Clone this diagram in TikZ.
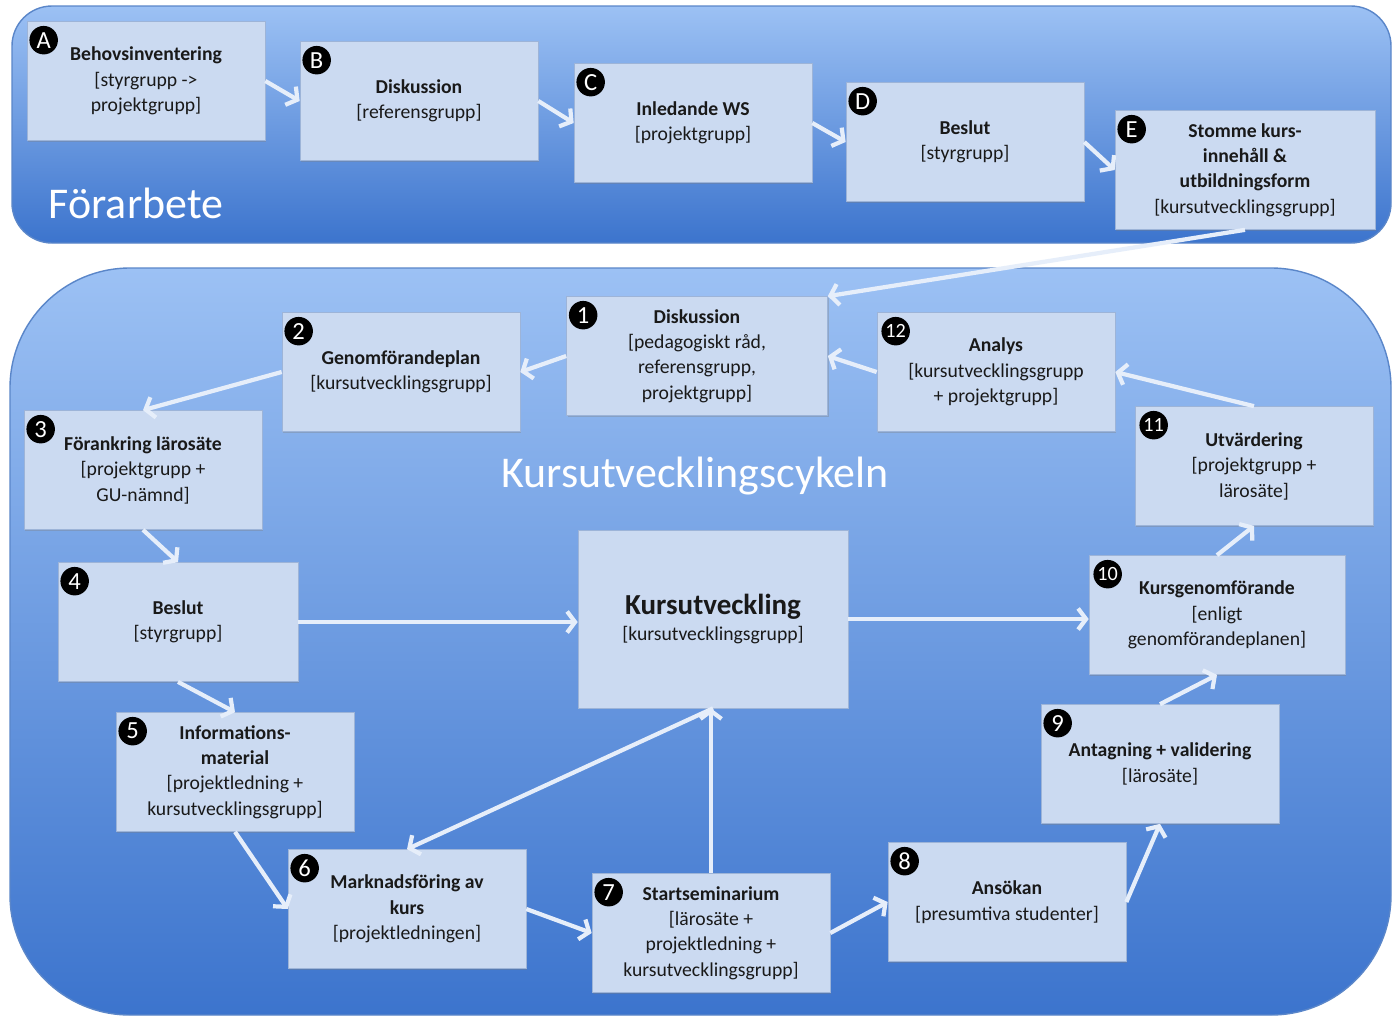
\documentclass[tikz,border=0pt]{standalone}
\usepackage{fontspec}
\setmainfont{Carlito}
\usetikzlibrary{calc, arrows.meta, shadows}

\definecolor{boxfill}{HTML}{CBDAF1}
\definecolor{boxline}{HTML}{9DB4D8}
\definecolor{paneltop}{HTML}{9CC1F4}
\definecolor{panelbot}{HTML}{3C74CD}
\definecolor{paneledge}{HTML}{5A86C9}
\definecolor{flowwhite}{HTML}{E6EEFA}

\tikzset{
	stepbox/.style={draw=boxline, fill=boxfill, align=center, text=black!90,
		minimum width=4.76cm, minimum height=2.38cm, inner sep=2pt,
		font=\fontsize{11.2}{14.5}\selectfont,
		drop shadow={opacity=0.35, shadow xshift=0.8pt, shadow yshift=-0.8pt}},
	badge/.style={circle, fill=black, text=white, inner sep=0pt,
		minimum size=0.57cm, font=\fontsize{14}{14}\selectfont},
	flow/.style={draw=flowwhite, line width=2.4pt,
		-{Straight Barb[length=4.5pt, width=12pt]}},
	panel/.style={rounded corners=2.4cm, top color=paneltop, bottom color=panelbot,
		draw=paneledge, line width=0.8pt},
	paneltitle/.style={text=white, font=\fontsize{25}{25}\selectfont}
}

\begin{document}
\begin{tikzpicture}[x=0.02cm, y=-0.02cm]
		\fill[white] (0,0) rectangle (1393,1022);
		\useasboundingbox (0,0) rectangle (1393,1022);

		% panels
		\draw[panel, rounded corners=0.8cm] (12,6) rectangle (1391,243);
		\draw[panel] (10,268) rectangle (1391,1015);
		\node[paneltitle] (t-pre) at (136,203) {Förarbete};
		\node[paneltitle] (t-cyc) at (695,476) {Kursutvecklingscykeln};

		% preliminary steps
		\node[stepbox] (A) at (146,81) {\textbf{Behovsinventering}\\{[}styrgrupp ->\\projektgrupp{]}};
		\node[stepbox] (B) at (419,101) {\textbf{Diskussion}\\{[}referensgrupp{]}};
		\node[stepbox] (C) at (693,123) {\textbf{Inledande WS}\\{[}projektgrupp{]}};
		\node[stepbox] (D) at (965,142) {\textbf{Beslut}\\{[}styrgrupp{]}};
		\node[stepbox, minimum width=5.2cm] (E) at (1245,170) {\textbf{Stomme kurs-}\\\textbf{innehåll \&}\\\textbf{utbildningsform}\\{[}kursutvecklingsgrupp{]}};

		% the cycle
		\node[stepbox, minimum width=5.22cm] (s1) at (697,356) {\textbf{Diskussion}\\{[}pedagogiskt råd,\\referensgrupp,\\projektgrupp{]}};
		\node[stepbox] (s2) at (401,372) {\textbf{Genomförandeplan}\\{[}kursutvecklingsgrupp{]}};
		\node[stepbox] (s3) at (143,470) {\textbf{Förankring lärosäte}\\{[}projektgrupp +\\GU-nämnd{]}};
		\node[stepbox, minimum width=4.8cm] (s4) at (178,622) {\textbf{Beslut}\\{[}styrgrupp{]}};
		\node[stepbox] (s5) at (235,772) {\textbf{Informations-}\\\textbf{material}\\{[}projektledning +\\kursutvecklingsgrupp{]}};
		\node[stepbox] (s6) at (407,909) {\textbf{Marknadsföring av}\\\textbf{kurs}\\{[}projektledningen{]}};
		\node[stepbox] (s7) at (711,933) {\textbf{Startseminarium}\\{[}lärosäte +\\projektledning +\\kursutvecklingsgrupp{]}};
		\node[stepbox] (s8) at (1007,902) {\textbf{Ansökan}\\{[}presumtiva studenter{]}};
		\node[stepbox] (s9) at (1160,764) {\textbf{Antagning + validering}\\{[}lärosäte{]}};
		\node[stepbox, minimum width=5.12cm] (s10) at (1217,615) {\textbf{Kursgenomförande}\\{[}enligt\\genomförandeplanen{]}};
		\node[stepbox] (s11) at (1254,466) {\textbf{Utvärdering}\\{[}projektgrupp +\\lärosäte{]}};
		\node[stepbox] (s12) at (996,372) {\textbf{Analys}\\{[}kursutvecklingsgrupp\\+ projektgrupp{]}};
		\node[stepbox, minimum width=5.4cm, minimum height=3.56cm] (kurs) at (713,619) {{\fontsize{16.5}{20}\selectfont\textbf{Kursutveckling}}\\{[}kursutvecklingsgrupp{]}};

		% badges
		\foreach \n/\l in {A/A, B/B, C/C, D/D, E/E, s1/1, s2/2, s3/3, s4/4, s5/5, s6/6, s7/7, s8/8, s9/9} {
				\node[badge] (b-\n) at ($(\n.north west)+(17,19)$) {\l};
			}
		\foreach \n/\l in {s10/10, s11/11, s12/12} {
				\node[badge, font=\fontsize{11.5}{11.5}\selectfont] (b-\n) at ($(\n.north west)+(19,19)$) {\l};
			}

		% arrows
		\draw[flow] (A.east) -- (B.west);
		\draw[flow] (B.east) -- (C.west);
		\draw[flow] (C.east) -- (D.west);
		\draw[flow] (D.east) -- (E.west);
		\draw[flow] (E.south) -- (s1.north east);
		\draw[flow] (s1.west) -- (s2.east);
		\draw[flow] (s2.west) -- (s3.north);
		\draw[flow] (s3.south) -- (s4.north);
		\draw[flow] (s4.east) -- (s4.east -| kurs.west);
		\draw[flow] (s4.south) -- (s5.north);
		\draw[flow] (s5.south) -- (s6.west);
		\draw[flow] (kurs.south) -- (s6.north);
		\draw[flow] (s6.east) -- (s7.west);
		\draw[flow] (s7.north) -- (s7.north |- kurs.south);
		\draw[flow] (s7.east) -- (s8.west);
		\draw[flow] (s8.east) -- (s9.south);
		\draw[flow] (s9.north) -- (s10.south);
		\draw[flow] (kurs.east) -- (kurs.east -| s10.west);
		\draw[flow] (s10.north) -- (s11.south);
		\draw[flow] (s11.north) -- (s12.east);
		\draw[flow] (s12.west) -- (s1.east);
	\end{tikzpicture}
\end{document}
